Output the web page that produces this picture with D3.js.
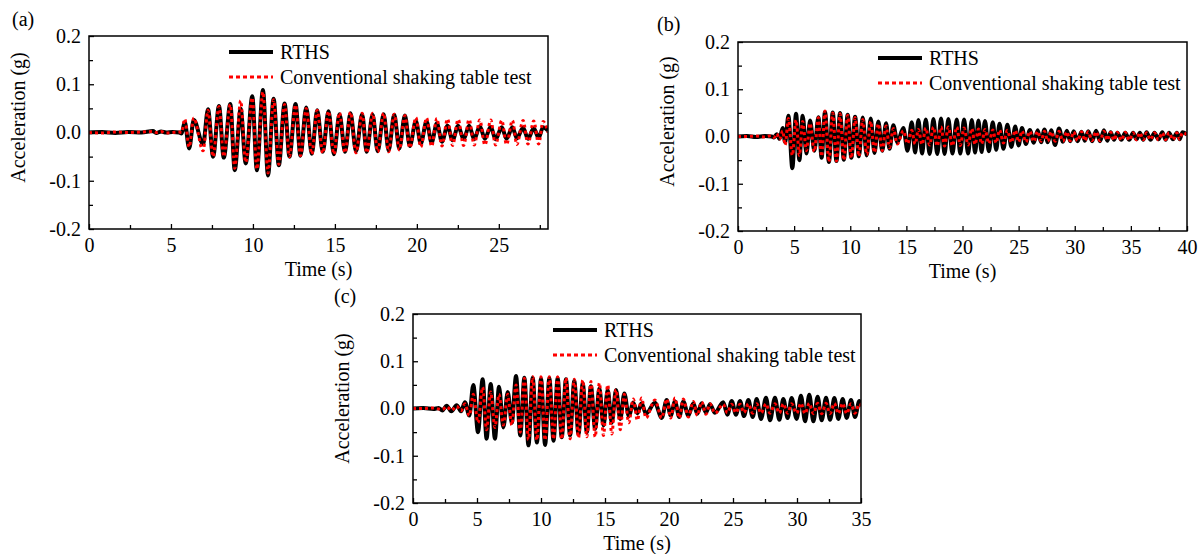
<!DOCTYPE html>
<html>
<head>
<meta charset="utf-8">
<script src="https://cdn.jsdelivr.net/npm/d3@7/dist/d3.min.js"></script>
<style>
  body { margin: 0; background: #fff; }
</style>
</head>
<body>
<script>
// ---- data: times of each peak / trough (s) and acceleration (g) ----

// (a)
let timeA = [0, 0.8, 1.6, 2.4, 3.2, 3.9, 4.1, 4.4, 4.7, 5.1, 5.5, 5.65,
    5.84, 6.11, 6.39, 6.96, 7.26, 7.57, 7.93, 8.22, 8.62, 8.89, 9.25, 9.56, 9.96, 10.24,
    10.61, 10.92, 11.26, 11.58, 11.93, 12.23, 12.6, 12.9, 13.25, 13.59, 13.92, 14.26,
    14.61, 14.94, 15.28, 15.62, 15.95, 16.29, 16.66, 16.94, 17.3, 17.61, 17.97, 18.28,
    18.62, 18.93, 19.27, 19.57, 19.94, 20.24, 20.59, 20.9, 21.22, 21.53, 21.87, 22.18,
    22.52, 22.85, 23.19, 23.5, 23.84, 24.15, 24.51, 24.8, 25.18, 25.47, 25.83, 26.1,
    26.48, 26.78, 27.13, 27.43, 27.7, 28.0]
let rthsA = [0, 0.001, -0.001, 0.001, 0, 0.003, -0.001, 0.002, 0, 0.001, 0, -0.002,
    0.022, -0.033, 0.026, -0.024, 0.048, -0.05, 0.055, -0.052, 0.059, -0.078, 0.049, -0.064, 0.075, -0.078,
    0.088, -0.089, 0.07, -0.068, 0.06, -0.05, 0.059, -0.048, 0.052, -0.044, 0.046, -0.04,
    0.044, -0.045, 0.038, -0.04, 0.04, -0.039, 0.038, -0.04, 0.037, -0.039, 0.038, -0.037,
    0.037, -0.033, 0.035, -0.028, 0.024, -0.023, 0.023, -0.021, 0.019, -0.019, 0.014, -0.016,
    0.014, -0.014, 0.014, -0.014, 0.013, -0.013, 0.012, -0.014, 0.011, -0.013, 0.011, -0.012,
    0.01, -0.013, 0.009, -0.011, 0.011, 0.004]
let convA = [0, -0.001, 0.001, 0, 0.001, 0.002, 0, 0.002, -0.001, 0, 0.001, 0,
    0.028, -0.03, 0.03, -0.038, 0.046, -0.05, 0.054, -0.05, 0.058, -0.074, 0.066, -0.062, 0.072, -0.076,
    0.084, -0.084, 0.068, -0.066, 0.058, -0.05, 0.057, -0.048, 0.05, -0.045, 0.046, -0.043,
    0.044, -0.045, 0.041, -0.042, 0.042, -0.042, 0.04, -0.042, 0.04, -0.04, 0.04, -0.04,
    0.038, -0.036, 0.035, -0.032, 0.031, -0.03, 0.03, -0.029, 0.029, -0.028, 0.028, -0.027,
    0.027, -0.027, 0.027, -0.026, 0.026, -0.026, 0.026, -0.026, 0.025, -0.025, 0.025, -0.025,
    0.025, -0.024, 0.024, -0.024, 0.023, 0]

// (b)
let timeB = [0, 0.8, 1.6, 2.4, 3.0, 3.2, 3.45, 3.7, 3.98, 4.2, 4.49, 4.84, 5.17, 5.47, 5.76,
    6.1, 6.42, 6.8, 7.16, 7.45, 7.75, 8.1, 8.44, 8.77, 9.09, 9.43, 9.77, 10.1, 10.43, 10.77,
    11.11, 11.47, 11.82, 12.16, 12.5, 12.85, 13.19, 13.5, 13.84, 14.2, 14.73, 15.1, 15.48,
    15.78, 16.07, 16.4, 16.73, 17.07, 17.41, 17.75, 18.09, 18.4, 18.74, 19.1, 19.49, 19.8,
    20.14, 20.5, 20.83, 21.12, 21.42, 21.7, 22.0, 22.35, 22.7, 23.0, 23.3, 23.65, 24.0,
    24.35, 24.7, 25.0, 25.3, 25.65, 26.0, 26.35, 26.7, 27.0, 27.3, 27.6, 27.9, 28.25, 28.6,
    28.95, 29.3, 29.6, 29.9, 30.25, 30.6, 30.9, 31.2, 31.55, 31.9, 32.25, 32.6, 32.9, 33.2,
    33.5, 33.8, 34.15, 34.5, 34.85, 35.2, 35.5, 35.8, 36.1, 36.4, 36.75, 37.1, 37.45, 37.8,
    38.1, 38.4, 38.75, 39.1, 39.35, 39.6, 40]
let rthsB = [0, 0.001, -0.001, 0.001, 0, -0.002, 0.005, -0.005, 0.018, -0.012, 0.044, -0.067, 0.048, -0.05, 0.044,
    -0.036, 0.034, -0.03, 0.041, -0.045, 0.052, -0.054, 0.051, -0.052, 0.05, -0.049, 0.046, -0.045, 0.042, -0.042,
    0.04, -0.04, 0.038, -0.035, 0.032, -0.03, 0.028, -0.026, 0.024, -0.012, 0.018, -0.03, 0.03,
    -0.034, 0.035, -0.036, 0.036, -0.037, 0.037, -0.037, 0.038, -0.037, 0.037, -0.036, 0.036, -0.036,
    0.036, -0.036, 0.035, -0.034, 0.034, -0.033, 0.033, -0.031, 0.03, -0.028, 0.027, -0.026, 0.025,
    -0.022, 0.021, -0.019, 0.018, -0.016, 0.014, -0.013, 0.013, -0.012, 0.015, -0.012, 0.013, -0.018, 0.017,
    -0.011, 0.012, -0.01, 0.011, -0.01, 0.01, -0.009, 0.011, -0.01, 0.012, -0.01, 0.013, -0.009, 0.009,
    -0.007, 0.008, -0.007, 0.008, -0.007, 0.008, -0.006, 0.008, -0.007, 0.009, -0.007, 0.008, -0.006, 0.009,
    -0.007, 0.008, -0.006, 0.008, -0.006, 0.009, 0.004]
let convB = [0, 0, 0.001, -0.001, 0.002, -0.002, 0.006, -0.006, 0.012, -0.018, 0.038, -0.04, 0.035, -0.04, 0.032,
    -0.03, 0.028, -0.032, 0.04, -0.042, 0.054, -0.054, 0.05, -0.052, 0.048, -0.05, 0.045, -0.046, 0.04, -0.042,
    0.036, -0.038, 0.032, -0.034, 0.027, -0.03, 0.022, -0.024, 0.017, -0.016, 0.012, -0.015, 0.013,
    -0.016, 0.015, -0.017, 0.018, -0.018, 0.02, -0.02, 0.02, -0.02, 0.02, -0.02, 0.02, -0.019,
    0.018, -0.018, 0.017, -0.017, 0.016, -0.016, 0.015, -0.015, 0.014, -0.014, 0.014, -0.014, 0.013,
    -0.013, 0.013, -0.012, 0.012, -0.012, 0.011, -0.011, 0.011, -0.01, 0.011, -0.01, 0.01, -0.01, 0.011,
    -0.01, 0.01, -0.009, 0.01, -0.009, 0.01, -0.009, 0.01, -0.009, 0.01, -0.009, 0.011, -0.008, 0.009,
    -0.008, 0.009, -0.008, 0.009, -0.008, 0.008, -0.007, 0.008, -0.007, 0.008, -0.007, 0.008, -0.007, 0.008,
    -0.007, 0.008, -0.007, 0.008, -0.006, 0.008, 0.004]

// (c)
let timeC = [0, 0.8, 1.6, 2.0, 2.3, 2.63, 3.0, 3.41, 3.75, 4.06, 4.4, 4.71, 5.08, 5.44, 5.75,
    6.07, 6.4, 6.72, 7.06, 7.4, 7.72, 8.05, 8.38, 8.7, 9.02, 9.35, 9.68, 10.0, 10.32, 10.65,
    10.98, 11.3, 11.62, 11.95, 12.27, 12.6, 12.93, 13.26, 13.58, 13.9, 14.23, 14.56, 14.88,
    15.21, 15.53, 15.86, 16.19, 16.51, 16.86, 17.21, 17.53, 17.86, 18.2, 18.9, 19.43, 19.82,
    20.13, 20.47, 20.8, 21.12, 21.51, 21.9, 22.21, 22.55, 22.89, 23.2, 23.59, 24.24, 24.56,
    24.9, 25.23, 25.55, 25.86, 26.2, 26.54, 26.85, 27.19, 27.58, 27.89, 28.28, 28.62, 28.93,
    29.27, 29.58, 29.97, 30.31, 30.63, 30.96, 31.28, 31.61, 31.93, 32.27, 32.58, 32.92, 33.23,
    33.57, 33.88, 34.22, 34.53, 34.87, 35]
let rthsC = [0, 0.001, -0.001, 0.001, -0.004, 0.006, -0.006, 0.007, -0.006, 0.013, -0.015, 0.05, -0.05, 0.062, -0.064,
    0.052, -0.064, 0.046, -0.04, 0.035, -0.03, 0.069, -0.057, 0.065, -0.078, 0.065, -0.072, 0.063, -0.077, 0.064,
    -0.068, 0.064, -0.061, 0.062, -0.057, 0.058, -0.054, 0.053, -0.05, 0.047, -0.043, 0.043, -0.036,
    0.039, -0.03, 0.039, -0.022, 0.032, -0.016, 0.012, -0.01, 0.011, -0.011, 0.012, -0.02, 0.018,
    -0.015, 0.015, -0.018, 0.015, -0.015, 0.011, -0.011, 0.011, -0.009, 0.009, -0.009, 0.013, -0.013,
    0.016, -0.013, 0.016, -0.016, 0.018, -0.018, 0.02, -0.022, 0.023, -0.025, 0.023, -0.024, 0.02,
    -0.02, 0.022, -0.022, 0.027, -0.027, 0.029, -0.027, 0.025, -0.025, 0.023, -0.024, 0.022, -0.022,
    0.02, -0.02, 0.018, -0.018, 0.016, 0.005]
let convC = [0, 0, 0.001, -0.001, -0.002, 0.004, -0.004, 0.005, -0.005, 0.01, -0.015, 0.03, -0.03, 0.045, -0.045,
    0.035, -0.04, 0.03, -0.035, 0.03, -0.035, 0.05, -0.05, 0.064, -0.066, 0.067, -0.067, 0.067, -0.067, 0.067,
    -0.065, 0.067, -0.065, 0.065, -0.064, 0.062, -0.062, 0.06, -0.06, 0.057, -0.06, 0.054, -0.057,
    0.05, -0.054, 0.04, -0.045, 0.03, -0.03, 0.02, -0.025, 0.022, -0.02, 0.018, -0.02, 0.02,
    -0.02, 0.022, -0.02, 0.02, -0.018, 0.015, -0.015, 0.014, -0.012, 0.01, -0.01, 0.009, -0.009,
    0.009, -0.009, 0.009, -0.009, 0.01, -0.01, 0.01, -0.01, 0.01, -0.01, 0.01, -0.01, 0.01,
    -0.01, 0.01, -0.01, 0.011, -0.011, 0.011, -0.011, 0.011, -0.011, 0.011, -0.011, 0.011, -0.011,
    0.011, -0.011, 0.01, -0.01, 0.01, 0.005]

// axis ticks and labels
let yTicks = [-0.2, -0.1, 0, 0.1, 0.2]
let yTickLabels = ["-0.2", "-0.1", "0.0", "0.1", "0.2"]
let yMinor = [-0.15, -0.05, 0.05, 0.15]
let xTicksA = [0, 5, 10, 15, 20, 25]
let xTicksB = [0, 5, 10, 15, 20, 25, 30, 35, 40]
let xTicksC = [0, 5, 10, 15, 20, 25, 30, 35]
let seriesNames = ["RTHS", "Conventional shaking table test"]

// ---- layout ----
var FONT = "'Liberation Serif', 'Times New Roman', serif"
var panels = [
    { tag: "(a)", left: 89, top: 36, w: 459, h: 193, xMax: 28, xTicks: xTicksA, time: timeA, rths: rthsA, conv: convA, labelX: 12, labelY: 26, titleShift: -15 },
    { tag: "(b)", left: 738, top: 42, w: 449, h: 189, xMax: 40, xTicks: xTicksB, time: timeB, rths: rthsB, conv: convB, labelX: 657, labelY: 31, titleShift: -15 },
    { tag: "(c)", left: 413, top: 314, w: 448, h: 189, xMax: 35, xTicks: xTicksC, time: timeC, rths: rthsC, conv: convC, labelX: 334, labelY: 303, titleShift: -10 }
]

var svg = d3.select("body").append("svg")
    .attr("width", 1204)
    .attr("height", 554)

panels.forEach(function (p, k) {
    var x = d3.scaleLinear().domain([0, p.xMax]).range([p.left, p.left + p.w])
    var y = d3.scaleLinear().domain([-0.2, 0.2]).range([p.top + p.h, p.top])

    var xMinor = p.xTicks.map(d => d + 2.5).filter(d => d < p.xMax)

    // minor ticks (inward)
    svg.append("g")
        .attr("transform", "translate(0," + (p.top + p.h) + ")")
        .call(d3.axisBottom(x).tickValues(xMinor).tickSize(-4).tickFormat(""))
        .call(g => g.select(".domain").remove())
    svg.append("g")
        .attr("transform", "translate(" + p.left + ",0)")
        .call(d3.axisLeft(y).tickValues(yMinor).tickSize(-4).tickFormat(""))
        .call(g => g.select(".domain").remove())

    // major ticks + labels
    var gx = svg.append("g")
        .attr("transform", "translate(0," + (p.top + p.h) + ")")
        .call(d3.axisBottom(x).tickValues(p.xTicks).tickSize(-5).tickPadding(9).tickFormat(d3.format("d")))
    gx.select(".domain").remove()

    var gy = svg.append("g")
        .attr("transform", "translate(" + p.left + ",0)")
        .call(d3.axisLeft(y).tickValues(yTicks).tickSize(-5).tickPadding(8)
            .tickFormat((d, i) => yTickLabels[i]))
    gy.select(".domain").remove()

    svg.selectAll("g.tick line").attr("stroke", "#000").attr("stroke-width", 1.3)
    ;[gx, gy].forEach(g => g.selectAll("text")
        .attr("fill", "#000")
        .style("font-family", FONT)
        .style("font-size", "20px"))

    // clip for the traces
    svg.append("clipPath").attr("id", "clip" + k)
        .append("rect")
        .attr("x", p.left).attr("y", p.top)
        .attr("width", p.w).attr("height", p.h)

    var line = d3.line()
        .x((d, i) => x(p.time[i]))
        .y(d => y(d))
        .curve(d3.curveMonotoneX)

    var traces = svg.append("g").attr("clip-path", "url(#clip" + k + ")")
    traces.append("path")
        .datum(p.rths)
        .attr("d", line)
        .attr("fill", "none")
        .attr("stroke", "#000")
        .attr("stroke-width", 4)
        .attr("stroke-linejoin", "round")
    traces.append("path")
        .datum(p.conv)
        .attr("d", line)
        .attr("fill", "none")
        .attr("stroke", "#ff0000")
        .attr("stroke-width", 3)
        .attr("stroke-dasharray", "3,3")

    // frame
    svg.append("rect")
        .attr("x", p.left).attr("y", p.top)
        .attr("width", p.w).attr("height", p.h)
        .attr("fill", "none")
        .attr("stroke", "#000")
        .attr("stroke-width", 1.5)

    // legend
    var lx = p.left + 140, ly = p.top + 16
    svg.append("line")
        .attr("x1", lx).attr("x2", lx + 44)
        .attr("y1", ly).attr("y2", ly)
        .attr("stroke", "#000").attr("stroke-width", 4)
    svg.append("line")
        .attr("x1", lx).attr("x2", lx + 44)
        .attr("y1", ly + 25).attr("y2", ly + 25)
        .attr("stroke", "#ff0000").attr("stroke-width", 3)
        .attr("stroke-dasharray", "4,3")
    svg.selectAll(null)
        .data(seriesNames)
        .enter()
        .append("text")
        .attr("x", lx + 51)
        .attr("y", (d, i) => ly + 7 + i * 25)
        .style("font-family", FONT)
        .style("font-size", "20px")
        .text(d => d)

    // axis titles
    svg.append("text")
        .attr("x", p.left + p.w / 2)
        .attr("y", p.top + p.h + 47)
        .attr("text-anchor", "middle")
        .style("font-family", FONT)
        .style("font-size", "20px")
        .text("Time (s)")
    svg.append("text")
        .attr("transform", "translate(" + (p.left - 64) + "," + (p.top + p.h / 2 + p.titleShift) + ") rotate(-90)")
        .attr("text-anchor", "middle")
        .style("font-family", FONT)
        .style("font-size", "20px")
        .text("Acceleration (g)")

    // panel tag
    svg.append("text")
        .attr("x", p.labelX)
        .attr("y", p.labelY)
        .style("font-family", FONT)
        .style("font-size", "20px")
        .text(p.tag)
})
</script>
</body>
</html>
